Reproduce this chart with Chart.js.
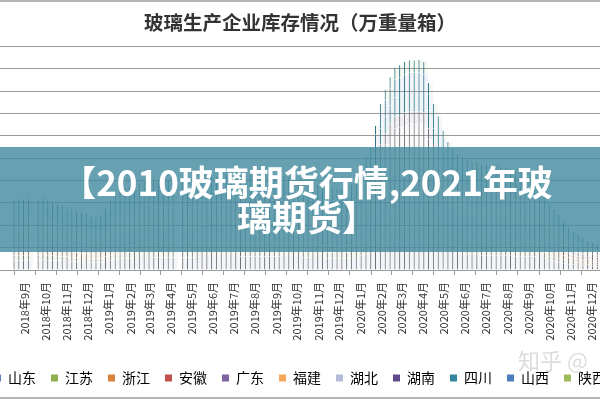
<!DOCTYPE html>
<html lang="zh-CN">
<head>
<meta charset="UTF-8">
<title>玻璃生产企业库存情况</title>
<script src="https://cdn.jsdelivr.net/npm/chart.js"></script>
<style>
  html, body { margin: 0; padding: 0; background: #fff; }
  .frame { position: relative; width: 600px; height: 400px; overflow: hidden; background: #fff; }
  .frame canvas { position: absolute; left: -40px; top: 0; }
  .edge { position: absolute; left: 0; width: 600px; height: 2px; background: #b4b4b4; }
  .banner {
    position: absolute; left: 0; top: 147px; width: 600px; height: 105px;
    background: rgba(70, 140, 160, 0.82); color: #fff;
    font-family: "Noto Sans CJK SC"; font-weight: 700; font-size: 35px; line-height: 35px;
    text-align: center; box-sizing: border-box; padding: 16px 0 0 14px;
  }
  .mark { position: absolute; left: 518px; top: 343px; color: #dcdcdc; font-family: "Noto Sans CJK SC"; font-size: 22px; white-space: nowrap; }
</style>
</head>
<body>
<div class="frame">
  <canvas id="chart" width="680" height="395"></canvas>
  <div class="edge" style="top:0"></div>
  <div class="edge" style="top:397px"></div>
  <div class="mark">知乎 @</div>
  <div class="banner">【2010玻璃期货行情,2021年玻<br>璃期货】</div>
</div>
<script>
// 周度库存（单位：10万重量箱），第一周为 2018-08-15 那一周，null 为缺数
const provinces = ['山东', '江苏', '浙江', '安徽', '广东', '福建', '湖北', '湖南', '四川', '山西', '陕西'];

const shandong = [
  22,22,22,22,null,22,23,22,21,21, 20,20,19,19,18,18,17,17,17,20,
  22,23,25,25,26,27,27,27,27,28, 28,28,28,28,null,28,28,28,29,29,
  29,29,29,29,29,29,29,30,30,30, 30,30,30,30,30,30,29,29,29,29,
  28,28,27,27,27,26,26,25,25,26, 27,29,32,35,38,45,52,56,60,63,
  64,65,65,65,65,65,58,52,48,44, 40,38,36,35,34,34,34,33,33,33,
  32,32,32,32,31,31,31,31,30,29, 26,21,19,17,15,13,12,11,10,9,
  8,8,8,8,8,8,8,8
];
const jiangsu = [
  11,11,11,11,null,11,11,11,11,10, 10,10,10,9,9,9,8,8,9,10,
  11,12,12,13,13,13,14,14,14,14, 14,14,14,14,null,14,14,14,14,14,
  14,15,15,15,15,15,15,15,15,15, 15,15,15,15,15,15,15,15,14,14,
  14,14,14,14,13,13,13,13,13,13, 13,14,16,18,19,23,26,28,30,32,
  32,32,33,33,33,32,29,26,24,22, 20,19,18,18,17,17,17,17,16,16,
  16,16,16,16,16,15,15,15,15,15, 13,10,10,9,8,7,6,6,5,4,
  4,4,4,4,4,4,4,4
];
const zhejiang = [
  13,13,13,13,null,13,13,12,12,12, 12,11,11,11,10,10,10,9,10,11,
  13,13,14,15,15,15,15,16,16,16, 16,16,16,16,null,16,16,16,16,16,
  16,17,17,17,17,17,17,17,17,17, 17,17,17,17,17,17,17,17,16,16,
  16,16,16,15,15,15,15,15,14,15, 15,16,18,20,22,26,30,32,34,36,
  37,37,37,37,37,37,33,30,28,25, 23,22,21,20,20,19,19,19,19,19,
  19,18,18,18,18,18,18,17,17,17, 15,12,11,10,9,8,7,6,6,5,
  5,5,5,4,4,4,4,4
];
const anhui = [
  14,14,14,14,null,14,15,14,14,13, 13,13,12,12,12,11,11,11,11,13,
  14,15,16,16,17,17,17,18,18,18, 18,18,18,18,null,18,18,18,18,19,
  19,19,19,19,19,19,19,19,19,19, 19,19,19,19,19,19,19,19,19,18,
  18,18,18,17,17,17,17,16,16,16, 17,18,21,23,24,29,33,36,39,40,
  41,42,42,42,42,42,38,33,31,28, 26,24,23,22,22,22,22,21,21,21,
  21,21,21,20,20,20,20,20,19,19, 17,13,12,11,10,9,8,7,6,6,
  5,5,5,5,5,5,5,5
];
const guangdong = [
  17,17,17,18,null,18,18,17,17,16, 16,16,15,15,14,14,13,13,14,15,
  17,18,19,20,21,21,21,22,22,22, 22,22,22,22,null,22,22,22,22,23,
  23,23,23,23,23,23,23,23,23,23, 23,23,23,23,23,23,23,23,23,22,
  22,22,22,21,21,21,20,20,20,20, 21,23,25,28,30,35,41,44,47,50,
  50,51,51,51,51,51,46,41,38,34, 32,30,28,28,27,27,26,26,26,26,
  26,25,25,25,25,24,24,24,24,23, 20,17,15,14,12,10,9,9,8,7,
  7,6,6,6,6,6,6,6
];
const fujian = [
  12,13,12,13,null,12,13,12,12,11, 11,11,11,10,10,10,9,9,10,11,
  12,13,14,14,15,15,16,16,15,16, 16,15,16,16,null,16,17,16,16,17,
  17,16,17,17,17,16,17,17,18,17, 17,17,18,17,17,16,17,16,17,16,
  16,16,15,15,15,15,14,15,14,15, 15,17,19,21,22,25,29,33,35,36,
  36,37,38,37,38,37,34,30,27,25, 23,22,21,21,20,19,20,19,19,18,
  19,18,19,18,18,17,18,17,17,17, 15,12,11,10,9,7,7,6,6,5,
  5,5,4,4,4,4,4,4
];
const hubei = [
  20,21,20,21,null,21,21,20,20,19, 19,18,18,17,17,16,16,15,16,18,
  21,22,23,24,24,25,25,25,26,26, 26,26,26,26,null,26,26,26,27,27,
  27,27,27,27,27,27,27,27,27,28, 28,28,28,28,28,27,27,27,27,27,
  26,26,25,25,25,24,24,24,24,24, 25,27,30,33,35,42,48,52,56,59,
  59,60,61,61,61,60,54,48,45,40, 37,35,34,33,32,31,31,31,31,30,
  30,30,30,29,29,29,29,28,28,27, 24,20,18,16,14,12,11,10,9,8,
  8,8,7,7,7,7,7,7
];
const hunan = [
  10,10,9,10,null,10,10,9,9,9, 9,9,8,8,8,8,7,7,7,8,
  9,10,11,11,11,11,12,12,12,12, 12,12,12,12,null,12,12,12,12,12,
  12,12,12,12,13,13,13,13,13,13, 13,13,13,13,13,13,13,12,12,12,
  12,12,12,12,11,11,11,11,11,11, 11,12,14,15,16,19,22,24,26,27,
  27,28,28,28,28,28,25,22,21,19, 17,16,16,15,15,15,14,14,14,14,
  14,14,14,14,13,13,13,13,13,13, 11,9,8,7,7,6,5,5,4,4,
  4,3,3,3,3,3,3,3
];
const sichuan = [
  13,14,14,15,null,14,14,14,13,14, 13,12,12,12,11,11,11,10,11,12,
  14,15,16,17,17,17,18,17,18,18, 18,18,18,19,null,18,18,19,18,18,
  19,19,19,18,19,19,20,19,19,19, 19,19,20,19,19,19,19,18,18,18,
  18,18,17,17,17,17,16,16,16,17, 17,19,21,23,25,30,35,38,41,43,
  43,44,44,45,44,44,39,34,31,28, 26,25,23,23,22,21,22,21,21,21,
  21,20,21,20,20,20,19,20,19,19, 16,13,12,11,10,8,8,7,6,6,
  5,5,5,5,5,5,5,5
];
const shanxi = [
  14,14,14,14,null,15,14,14,14,13, 13,13,12,12,11,11,11,11,11,12,
  14,15,16,16,17,17,17,18,17,18, 18,18,18,18,null,18,18,18,19,19,
  18,19,19,19,19,19,19,19,19,20, 19,19,19,19,19,19,19,19,18,18,
  18,18,18,17,17,17,16,16,16,16, 17,18,20,22,24,29,34,36,38,40,
  41,41,42,42,42,41,37,33,31,28, 26,24,23,22,22,22,21,21,21,21,
  21,21,20,20,20,20,20,19,19,19, 17,14,12,11,10,9,7,7,7,6,
  5,5,5,5,5,5,5,5
];
const shaanxi = [
  9,10,10,9,null,10,9,10,9,9, 9,8,8,8,8,7,7,7,8,8,
  10,10,10,11,11,12,11,12,12,12, 12,12,12,12,null,12,12,12,13,12,
  12,13,12,12,13,13,12,13,13,13, 13,13,13,12,13,13,12,13,12,12,
  12,12,12,11,11,11,11,11,11,11, 12,12,13,15,17,19,22,24,25,27,
  28,28,28,28,29,28,25,23,20,19, 17,17,15,15,15,14,15,14,14,14,
  14,14,13,14,13,14,13,13,13,12, 11,9,8,8,6,6,5,5,4,4,
  4,3,4,3,3,3,3,3
];
const provinceValues = [shandong, jiangsu, zhejiang, anhui, guangdong, fujian, hubei, hunan, sichuan, shanxi, shaanxi];

const tickLabels = [
  '2018年9月', '2018年10月', '2018年11月', '2018年12月',
  '2019年1月', '2019年2月', '2019年3月', '2019年4月', '2019年5月', '2019年6月',
  '2019年7月', '2019年8月', '2019年9月', '2019年10月', '2019年11月', '2019年12月',
  '2020年1月', '2020年2月', '2020年3月', '2020年4月', '2020年5月', '2020年6月',
  '2020年7月', '2020年8月', '2020年9月', '2020年10月', '2020年11月', '2020年12月'
];

const legendColors = ['#5b7fb5', '#8fb050', '#d9823b', '#c0504d', '#8064a2', '#f5a65b', '#b3bcd9', '#5f4b8b', '#31859c', '#4a7ebb', '#9bbb59'];
const lineColors = ['#727272', '#727272', '#727272', '#727272', '#727272', '#727272', '#727272', '#727272', '#2c7386', '#2c7386', '#2c7386'];

// x 轴用天数（从 2018-08-15 起），每周一根柱
const day0 = Date.UTC(2018, 7, 15);
const tickDays = tickLabels.map(s => {
  const m = s.match(/(\d+)年(\d+)月/);
  return (Date.UTC(+m[1], +m[2] - 1, 1) - day0) / 86400000;
});

const datasets = provinces.map((name, p) => ({
  label: name,
  data: provinceValues[p].map((v, i) => ({ x: 7 * i + 3.5, y: v })),
  backgroundColor: legendColors[p] + '14',
  borderColor: lineColors[p],
  borderWidth: { left: 1, right: 0, top: 0, bottom: 0 },
  borderSkipped: false,
  inflateAmount: 0,
  barThickness: 5
}));

new Chart(document.getElementById('chart'), {
  type: 'bar',
  data: { datasets: datasets },
  options: {
    responsive: false,
    animation: false,
    devicePixelRatio: 1,
    layout: { padding: 0 },
    scales: {
      x: {
        type: 'linear',
        stacked: true,
        min: -60,
        max: 892,
        afterBuildTicks: axis => { axis.ticks = tickDays.map(v => ({ value: v })); },
        afterFit: axis => { axis.height = 86; },
        ticks: {
          autoSkip: false,
          minRotation: 90,
          maxRotation: 90,
          padding: 7,
          color: '#333',
          font: { family: 'Noto Sans CJK SC', size: 11 },
          callback: v => tickLabels[tickDays.indexOf(v)]
        },
        grid: { drawOnChartArea: false, tickLength: 5, color: '#999' },
        border: { display: true, color: '#999' }
      },
      y: {
        stacked: true,
        min: 0,
        max: 500,
        ticks: { display: false, stepSize: 50 },
        afterFit: axis => { axis.width = 0; },
        grid: { color: '#9a9a9a', drawTicks: false },
        border: { display: false }
      }
    },
    plugins: {
      title: {
        display: true,
        text: '玻璃生产企业库存情况（万重量箱）',
        color: '#333',
        font: { family: 'Noto Sans CJK SC', size: 19.5, weight: 'bold' },
        padding: { top: 11, bottom: 12 }
      },
      legend: {
        position: 'bottom',
        labels: {
          boxWidth: 7,
          boxHeight: 7,
          padding: 15,
          color: '#333',
          font: { family: 'Noto Sans CJK SC', size: 14 },
          generateLabels: chart => chart.data.datasets.map((ds, i) => ({
            text: ds.label, fillStyle: legendColors[i], strokeStyle: legendColors[i],
            lineWidth: 0, hidden: false, datasetIndex: i
          }))
        }
      },
      tooltip: { enabled: false }
    }
  }
});
</script>
</body>
</html>
